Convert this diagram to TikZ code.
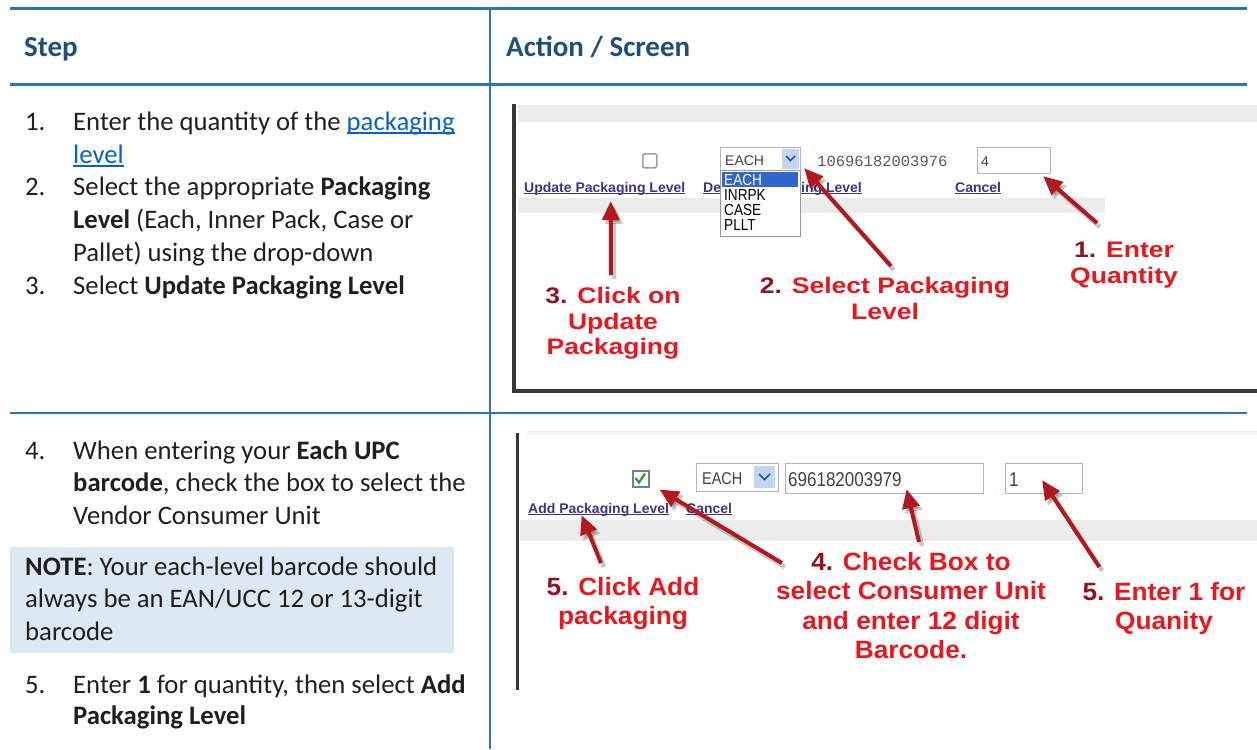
\documentclass[tikz,border=0pt]{standalone}
\usepackage{fontspec}
\setmainfont{Carlito}
\newfontfamily\shotfont{Liberation Sans}
\newfontfamily\shotnarrow[FakeStretch=0.85]{Liberation Sans}
\newfontfamily\shotmono{Liberation Mono}
\newfontfamily\calloutwide[FakeStretch=1.18]{Liberation Sans}
\newfontfamily\calloutfont[FakeStretch=1.05]{Liberation Sans}
\usetikzlibrary{arrows.meta, calc, positioning}

% colours
\definecolor{tableblue}{RGB}{46,116,181}
\definecolor{headblue}{RGB}{31,78,121}
\definecolor{notefill}{RGB}{221,232,245}
\definecolor{linkblue}{RGB}{5,99,193}
\definecolor{uilink}{RGB}{62,50,140}
\definecolor{uigrey}{RGB}{236,236,236}
\definecolor{uiframe}{RGB}{55,55,55}
\definecolor{fieldedge}{RGB}{165,184,207}
\definecolor{selblue}{RGB}{51,102,204}
\definecolor{btnblue}{RGB}{196,213,242}
\definecolor{arrowred}{RGB}{178,24,30}
\definecolor{callred}{RGB}{234,22,30}
\definecolor{numred}{RGB}{140,22,30}
\definecolor{checkgreen}{RGB}{40,160,40}

% underlined link in the step column
\newcommand{\doclink}[1]{\setbox0\hbox{\textcolor{linkblue}{#1}}\rlap{\textcolor{linkblue}{\rule[-4pt]{\wd0}{1.8pt}}}\box0}
% underlined link in the screenshots
\newcommand{\shotlink}[1]{\setbox0\hbox{#1}\rlap{\rule[-2pt]{\wd0}{1pt}}\box0}

\begin{document}
\begin{tikzpicture}[x=1pt, y=-1pt,
    tableline/.style={draw=tableblue, line width=#1},
    headtext/.style={anchor=base west, inner sep=0pt, text=headblue,
        font=\fontsize{29}{32}\selectfont\bfseries},
    steptext/.style={anchor=base west, inner sep=0pt, text=black!88,
        font=\fontsize{26.7}{32}\selectfont},
    field/.style={draw=fieldedge, line width=1.2pt, fill=white, inner sep=0pt, anchor=north west},
    btn/.style={fill=btnblue, inner sep=0pt, anchor=north west},
    chev/.style={draw=selblue!80!black, line width=1.6pt},
    shottext/.style={anchor=base west, inner sep=0pt, text=black!75,
        font=\shotfont\fontsize{14}{16}\selectfont},
    listtext/.style={anchor=base west, inner sep=0pt,
        font=\shotnarrow\fontsize{16}{16}\selectfont},
    shotlinktext/.style={anchor=base west, inner sep=0pt, text=uilink,
        font=\shotfont\fontsize{14}{16}\selectfont\bfseries},
    callwide/.style={anchor=north, align=center, inner sep=0pt, text=callred,
        font=\calloutwide\fontsize{22.5}{25.5}\selectfont\bfseries},
    callnarrow/.style={anchor=north, align=center, inner sep=0pt, text=callred,
        font=\calloutfont\fontsize{25}{29.5}\selectfont\bfseries},
    callarrow/.style={draw=arrowred, line width=4pt, -{Triangle[length=19pt,width=17pt]}},
    callshadow/.style={draw=black, opacity=0.22, line width=4.5pt, -{Triangle[length=19pt,width=17pt]}}
]
    \useasboundingbox (0,0) rectangle (1257,749);

    % Note box behind step 4
    \fill[notefill] (10,547) rectangle (454,653);

    % Table rules
    \draw[tableline=3pt] (10,9) -- (1247,9);
    \draw[tableline=3pt] (10,85) -- (1247,85);
    \draw[tableline=2.5pt] (10,413) -- (1247,413);
    \draw[tableline=1.5pt] (490,9) -- (490,749);

    % Header
    \node[headtext] (hStep) at (24,57) {Step};
    \node[headtext] (hAction) at (506,57) {Action / Screen};

    % Step column, first row
    \foreach \nm/\yy/\num in {n1/130/1., n2/195/2., n3/294/3., n4/459/4., n5/693/5.}
        \node[steptext] (\nm) at (25,\yy) {\num};
    \node[steptext] (s1a) at (73,130) {Enter the quantity of the \doclink{packaging}};
    \node[steptext] (s1b) at (73,163) {\doclink{level}};
    \node[steptext] (s2a) at (73,195) {Select the appropriate \textbf{Packaging}};
    \node[steptext] (s2b) at (73,228) {\textbf{Level} (Each, Inner Pack, Case or};
    \node[steptext] (s2c) at (73,261) {Pallet) using the drop-down};
    \node[steptext] (s3a) at (73,294) {Select \textbf{Update Packaging Level}};

    % Step column, second row
    \node[steptext] (s4a) at (73,459) {When entering your \textbf{Each UPC}};
    \node[steptext] (s4b) at (73,491) {\textbf{barcode}, check the box to select the};
    \node[steptext] (s4c) at (73,524) {Vendor Consumer Unit};
    \node[steptext] (noteA) at (25,575) {\textbf{NOTE}: Your each-level barcode should};
    \node[steptext] (noteB) at (25,607) {always be an EAN/UCC 12 or 13-digit};
    \node[steptext] (noteC) at (25,640) {barcode};
    \node[steptext] (s5a) at (73,693) {Enter \textbf{1} for quantity, then select \textbf{Add}};
    \node[steptext] (s5b) at (73,724) {\textbf{Packaging Level}};

    % Screenshot 1
    \begin{scope}
        % window edge and grey bars
        \fill[uigrey] (518,105) rectangle (1257,122);
        \fill[uigrey] (518,198) rectangle (1105,213);
        \draw[uiframe, line width=3.5pt] (514,104) -- (514,391) -- (1257,391);
        % controls
        \node[field, draw=gray!75, line width=1.5pt, rounded corners=1.5pt, minimum size=14pt] (chk1) at (642,153) {};
        \node[field, minimum width=80pt, minimum height=23pt] (sel1) at (720,147) {};
        \node[btn, minimum width=17pt, minimum height=20pt] (btn1) at (782,149) {};
        \draw[chev] (786,156) -- (790.5,160.5) -- (795,156);
        \node[shottext] (each1) at (725,165) {EACH};
        \node[anchor=base west, inner sep=0pt, text=black!65,
            font=\shotmono\fontsize{15.5}{16}\selectfont] (code1) at (817,166) {10696182003976};
        \node[field, minimum width=73pt, minimum height=26pt] (qty1) at (977,147) {};
        \node[shottext] (qtyval1) at (981,166) {4};
        % links (the middle one is half hidden by the list)
        \node[shotlinktext] (lnkUpdate) at (524,192) {\shotlink{Update Packaging Level}};
        \node[shotlinktext] (lnkDelA) at (703,192) {\shotlink{De}};
        \node[shotlinktext, anchor=base east] (lnkDelB) at (862,192) {\shotlink{ing Level}};
        \node[shotlinktext] (lnkCancel1) at (955,192) {\shotlink{Cancel}};
        % open drop-down list
        \node[field, draw=gray!80, line width=1.4pt, minimum width=80pt, minimum height=66pt] (list1) at (720,170) {};
        \fill[selblue] (722,172) rectangle (798,187);
        \foreach \nm/\yy/\opt/\col in {optA/185/EACH/white, optB/200/INRPK/black, optC/215/CASE/black, optD/230/PLLT/black}
            \node[listtext, text=\col] (\nm) at (724,\yy) {\opt};
    \end{scope}

    % Screenshot 2
    \begin{scope}
        % window edge and grey bars
        \fill[uigrey!60] (527,431) rectangle (1257,435);
        \fill[uigrey] (520,520) rectangle (1257,541);
        \draw[uiframe, line width=3pt] (517,433) -- (517,690);
        % controls
        \node[field, draw=fieldedge!70!black, line width=1.5pt, minimum size=16pt] (chk2) at (632,470) {};
        \draw[checkgreen, line width=2.2pt] (635.5,478) -- (639,482.5) -- (645,473.5);
        \node[field, minimum width=82pt, minimum height=28pt] (sel2) at (696,463) {};
        \node[btn, minimum width=21pt, minimum height=22pt] (btn2) at (754,466) {};
        \draw[chev] (759,474) -- (764.5,479.5) -- (770,474);
        \node[shottext, font=\shotnarrow\fontsize{17}{18}\selectfont] (each2) at (702,484) {EACH};
        \node[field, minimum width=198pt, minimum height=30pt] (code2) at (785,463) {};
        \node[shottext, font=\shotnarrow\fontsize{20}{22}\selectfont] (codeval2) at (788,486) {696182003979};
        \node[field, minimum width=77pt, minimum height=30pt] (qty2) at (1005,463) {};
        \node[shottext, font=\shotnarrow\fontsize{20}{22}\selectfont] (qtyval2) at (1009,486) {1};
        % links
        \node[shotlinktext] (lnkAdd) at (528,513) {\shotlink{Add Packaging Level}};
        \node[shotlinktext] (lnkCancel2) at (686,513) {\shotlink{Cancel}};
    \end{scope}

    % Callout labels
    \node[callwide] (lblQty) at (1124,242) {{\color{numred}1.} Enter\\Quantity};
    \node[callwide] (lblLevel) at (885,277) {{\color{numred}2.} Select Packaging\\Level};
    \node[callwide] (lblUpdate) at (613,287) {{\color{numred}3.} Click on\\Update\\Packaging};
    \node[callnarrow] (lblCheck) at (911,552) {{\color{numred}4.} Check Box to\\select Consumer Unit\\and enter 12 digit\\Barcode.};
    \node[callnarrow] (lblAdd) at (623,577) {{\color{numred}5.} Click Add\\packaging};
    \node[callnarrow] (lblOne) at (1164,582) {{\color{numred}5.} Enter 1 for\\Quanity};

    % Callout arrows, shadow first
    \foreach \sty/\sx/\sy in {callshadow/3pt/-4pt, callarrow/0pt/0pt}
    {
        \begin{scope}[transform canvas={shift={(\sx,\sy)}}]
            \draw[\sty] ($(lblQty.north)+(-27,-19)$) -- ($(qty1.south east)+(-8,2)$);
            \draw[\sty] ($(lblLevel.north)+(6,-11)$) -- ($(sel1.south east)+(3,-3)$);
            \draw[\sty] ($(lblUpdate.north)+(-2,-12)$) -- ($(lnkUpdate.south)+(6,6)$);
            \draw[\sty] ($(lblCheck.north west)+(6,11)$) -- ($(chk2.south east)+(10,2)$);
            \draw[\sty] ($(lblCheck.north)+(8,-10)$) -- ($(code2.south)+(22,-5)$);
            \draw[\sty] ($(lblAdd.north)+(-22,-14)$) -- ($(lnkAdd.south)+(-17,-1)$);
            \draw[\sty] ($(lblOne.north west)+(17,-15)$) -- ($(qty2.south)+(-2,-14)$);
        \end{scope}
    }
\end{tikzpicture}
\end{document}
